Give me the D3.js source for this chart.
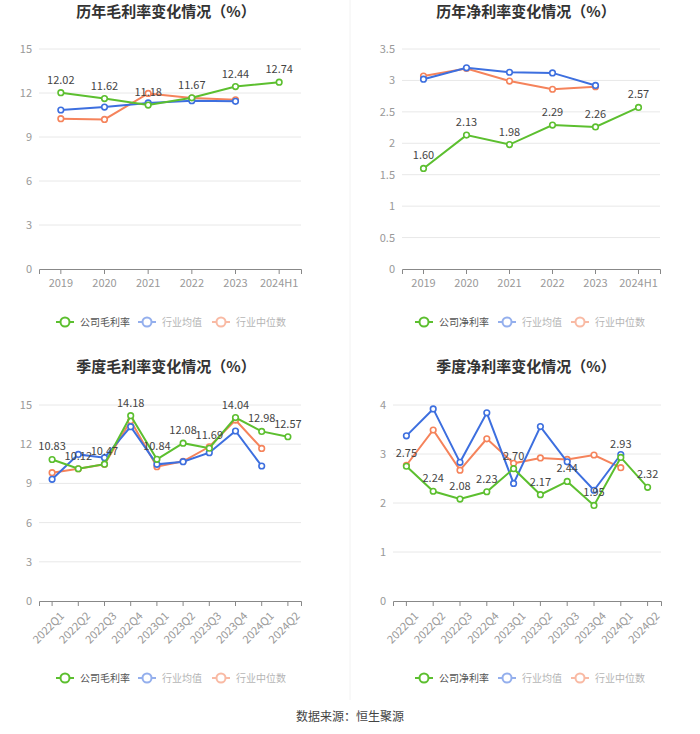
<!DOCTYPE html>
<html><head><meta charset="utf-8">
<script src="https://cdn.jsdelivr.net/npm/d3@7"></script>
<style>body{margin:0;background:#fff;font-family:"Noto Sans CJK SC","Noto Sans",sans-serif;}</style>
</head><body>
<svg id="c" width="700" height="734"></svg>
<script>
const years = ["2019","2020","2021","2022","2023","2024H1"];
const quarters = ["2022Q1","2022Q2","2022Q3","2022Q4","2023Q1","2023Q2","2023Q3","2023Q4","2024Q1","2024Q2"];

const grossYearCompany = [12.02, 11.62, 11.18, 11.67, 12.44, 12.74];
const grossYearMean    = [10.84, 11.04, 11.32, 11.48, 11.43];
const grossYearMedian  = [10.25, 10.20, 11.97, 11.66, 11.54];

const netYearCompany = [1.60, 2.13, 1.98, 2.29, 2.26, 2.57];
const netYearMean    = [3.02, 3.20, 3.13, 3.12, 2.92];
const netYearMedian  = [3.07, 3.19, 2.99, 2.86, 2.90];

const grossQCompany = [10.83, 10.12, 10.47, 14.18, 10.84, 12.08, 11.69, 14.04, 12.98, 12.57];
const grossQMean    = [9.31, 11.22, 10.97, 13.34, 10.46, 10.66, 11.35, 13.01, 10.33];
const grossQMedian  = [9.82, 10.12, 10.46, 13.80, 10.28, 10.69, 11.80, 13.85, 11.68];

const netQCompany = [2.75, 2.24, 2.08, 2.23, 2.70, 2.17, 2.44, 1.95, 2.93, 2.32];
const netQMean    = [3.37, 3.92, 2.83, 3.84, 2.40, 3.56, 2.84, 2.26, 2.99];
const netQMedian  = [2.77, 3.49, 2.67, 3.31, 2.81, 2.92, 2.89, 2.98, 2.72];

const yTicksGross = [0, 3, 6, 9, 12, 15];
const yTicksNetYear = [0, 0.5, 1, 1.5, 2, 2.5, 3, 3.5];
const yTicksNetQ = [0, 1, 2, 3, 4];

const titles = ["历年毛利率变化情况（%）","历年净利率变化情况（%）","季度毛利率变化情况（%）","季度净利率变化情况（%）"];
const legendGross = ["公司毛利率","行业均值","行业中位数"];
const legendNet = ["公司净利率","行业均值","行业中位数"];
const source = "数据来源：恒生聚源";

const GREEN = "#5cbf2f", BLUE = "#3d6fdf", ORANGE = "#f5835b";
const svg = d3.select("#c");

// separators
svg.append("line").attr("x1",350).attr("x2",350).attr("y1",0).attr("y2",700).attr("stroke","#f2f2f2");

function panel(o){
  const g = svg.append("g");
  const x = d3.scaleBand().domain(o.cats).range([o.x0,o.x1]);
  const y = d3.scaleLinear().domain([0,o.ymax]).range([o.yb,o.yt]);
  const cx = d => x(d)+x.bandwidth()/2;
  // title
  g.append("text").attr("x",o.tx).attr("y",o.ty).attr("text-anchor","middle")
    .attr("font-size",15).attr("font-weight","bold").attr("fill","#333").text(o.title);
  // grid
  g.append("g").selectAll("line").data(o.ticks.filter(t=>t>0)).join("line")
    .attr("x1",o.x0).attr("x2",o.x1).attr("y1",d=>y(d)).attr("y2",d=>y(d))
    .attr("stroke","#e8e8e8");
  // y labels
  g.append("g").selectAll("text").data(o.ticks).join("text")
    .attr("x",o.x0-7).attr("y",d=>y(d)+4).attr("text-anchor","end")
    .attr("font-size",11).attr("fill","#999").text(d=>d);
  // x axis
  const ax = g.append("g").attr("transform",`translate(0,${o.yb})`)
    .call(d3.axisBottom(x).tickSizeOuter(0).tickSize(5).tickPadding(5));
  ax.select(".domain").attr("stroke","#888");
  ax.selectAll(".tick line").attr("stroke","#888");
  ax.selectAll(".tick text").attr("font-size",11).attr("fill","#999")
    .attr("font-family",'"Noto Sans CJK SC","Noto Sans",sans-serif');
  if(o.rotate){
    ax.selectAll(".tick text").attr("text-anchor","end").attr("dy","0.35em")
      .attr("transform","translate(3,6) rotate(-45)");
  }
  const line = d3.line().x((d,i)=>cx(o.cats[i])).y(d=>y(d));
  const series = [[o.median,ORANGE],[o.mean,BLUE],[o.company,GREEN]];
  series.forEach(([vals,col])=>{
    g.append("path").datum(vals).attr("d",line).attr("fill","none")
      .attr("stroke",col).attr("stroke-width",2);
    g.append("g").selectAll("circle").data(vals).join("circle")
      .attr("cx",(d,i)=>cx(o.cats[i])).attr("cy",d=>y(d)).attr("r",2.8)
      .attr("fill","#fff").attr("stroke",col).attr("stroke-width",1.6);
  });
  g.append("g").selectAll("text").data(o.company).join("text")
    .attr("x",(d,i)=>cx(o.cats[i])).attr("y",d=>y(d)-9).attr("text-anchor","middle")
    .attr("font-size",11).attr("fill","#444").text(d=>d.toFixed(2));
  // legend
  const cols=[GREEN,BLUE,ORANGE], ops=[1,0.55,0.55];
  o.legend.forEach((name,i)=>{
    const lx=o.lx[i], ly=o.ly;
    const lg=g.append("g").attr("opacity",ops[i]);
    lg.append("line").attr("x1",lx).attr("x2",lx+18).attr("y1",ly).attr("y2",ly)
      .attr("stroke",cols[i]).attr("stroke-width",2);
    lg.append("circle").attr("cx",lx+9).attr("cy",ly).attr("r",4.5)
      .attr("fill","#fff").attr("stroke",cols[i]).attr("stroke-width",2);
    lg.append("text").attr("x",lx+24).attr("y",ly+3.8).attr("font-size",10)
      .attr("fill",i==0?"#555":"#777").text(name);
  });
}

panel({cats:years,x0:39,x1:301,yt:49,yb:269,ymax:15,ticks:yTicksGross,
  company:grossYearCompany,mean:grossYearMean,median:grossYearMedian,
  title:titles[0],tx:166,ty:17,legend:legendGross,lx:[56,138,212],ly:322});
panel({cats:years,x0:402,x1:660,yt:49,yb:269,ymax:3.5,ticks:yTicksNetYear,
  company:netYearCompany,mean:netYearMean,median:netYearMedian,
  title:titles[1],tx:526,ty:17,legend:legendNet,lx:[415,498,571],ly:322});
panel({cats:quarters,x0:39,x1:301,yt:405,yb:601,ymax:15,ticks:yTicksGross,rotate:true,
  company:grossQCompany,mean:grossQMean,median:grossQMedian,
  title:titles[2],tx:166,ty:372,legend:legendGross,lx:[56,138,212],ly:678});
panel({cats:quarters,x0:393,x1:661,yt:405,yb:601,ymax:4,ticks:yTicksNetQ,rotate:true,
  company:netQCompany,mean:netQMean,median:netQMedian,
  title:titles[3],tx:526,ty:372,legend:legendNet,lx:[415,498,571],ly:678});

svg.append("text").attr("x",350).attr("y",721).attr("text-anchor","middle")
  .attr("font-size",12).attr("fill","#444").text(source);
</script>
</body></html>
